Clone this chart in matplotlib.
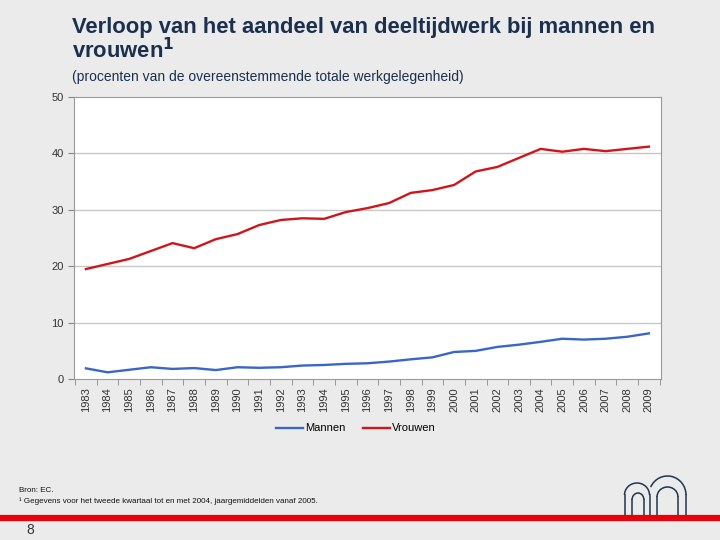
import matplotlib.pyplot as plt
import numpy as np
from matplotlib.patches import Arc

plt.rcParams['font.family'] = ['Liberation Sans', 'DejaVu Sans']

# data (aandeel deeltijdwerk, % van totale werkgelegenheid)
years = list(range(1983, 2010))
mannen = [1.9, 1.2, 1.65, 2.1, 1.8, 1.95, 1.6, 2.1, 2.0, 2.1, 2.4, 2.5, 2.7, 2.8,
          3.1, 3.5, 3.85, 4.8, 5.0, 5.7, 6.1, 6.6, 7.15, 7.0, 7.15, 7.5, 8.1]
vrouwen = [19.5, 20.4, 21.3, 22.7, 24.1, 23.2, 24.8, 25.7, 27.3, 28.2, 28.5, 28.4,
           29.6, 30.3, 31.2, 33.0, 33.5, 34.4, 36.8, 37.6, 39.2, 40.8, 40.3, 40.8,
           40.4, 40.8, 41.2]

bg = "#ebebeb"
navy = "#1b2f4e"
fig = plt.figure(figsize=(7.2, 5.4), dpi=100, facecolor=bg)
ax = fig.add_axes([0.1028, 0.298, 0.815, 0.5224])
ax.set_facecolor("white")

x = np.arange(len(years))
ax.plot(x, mannen, color="#3a66c8", lw=1.7, label="Mannen")
ax.plot(x, vrouwen, color="#d0161b", lw=1.7, label="Vrouwen")

ax.set_ylim(0, 50)
ax.set_yticks([0, 10, 20, 30, 40, 50])
ax.set_xlim(-0.55, len(years) - 0.45)
ax.set_xticks(x)
ax.set_xticklabels([str(y) for y in years], rotation=90)
ax.set_xticks(np.arange(len(years) + 1) - 0.5, minor=True)
ax.tick_params(axis="x", which="major", length=0, pad=6, labelsize=8, colors="#333333")
ax.tick_params(axis="x", which="minor", length=4, color="#888888")
ax.tick_params(axis="y", length=4, color="#888888", labelsize=8, labelcolor="#333333")
for v in [10, 20, 30, 40]:
    ax.axhline(v, color="#c8c8c8", lw=1, zorder=0)
for s in ax.spines.values():
    s.set_color("#999999")

ax.legend(loc="upper center", bbox_to_anchor=(0.48, -0.122), ncol=2, frameon=False,
          fontsize=8, handlelength=2.4, handletextpad=0.2, columnspacing=1.6)

# titles
fig.text(0.1, 0.968, "Verloop van het aandeel van deeltijdwerk bij mannen en\nvrouwen$^\\mathbf{1}$",
         fontsize=15.8, fontweight="bold", va="top", ha="left", color=navy, linespacing=1.0)
fig.text(0.1, 1 - 77 / 540, "(procenten van de overeenstemmende totale werkgelegenheid)",
         fontsize=10, va="center", ha="left", color=navy)

# footer
fig.text(0.026, 1 - 490 / 540, "Bron: EC.", fontsize=5.8, color="#111111", va="center")
fig.text(0.026, 1 - 501 / 540,
         "\u00b9 Gegevens voor het tweede kwartaal tot en met 2004, jaargemiddelden vanaf 2005.",
         fontsize=5.8, color="#111111", va="center")
fig.add_artist(plt.Line2D([0, 1], [0.04, 0.04], color="#e8000b", lw=4.5))
fig.text(0.042, 0.018, "8", fontsize=10, color="#333333", ha="center", va="center")

# logo (pixel-like coordinates, y downwards)
lx = fig.add_axes([615 / 720, 25 / 540, 80 / 720, 45 / 540])
lx.set_xlim(615, 695)
lx.set_ylim(515, 470)
lx.axis("off")
c = "#1f3550"
lw = 1.1
# right arch (behind)
lx.add_patch(Arc((667.5, 495), 37, 38, theta1=205, theta2=360, color=c, lw=lw))
lx.add_patch(Arc((667.5, 497), 21, 20, theta1=180, theta2=360, color=c, lw=lw))
# left arch
lx.add_patch(Arc((637, 495), 25, 24, theta1=180, theta2=360, color=c, lw=lw))
lx.add_patch(Arc((638, 500), 12, 14, theta1=180, theta2=360, color=c, lw=lw))
for xx, y0 in [(624.5, 495), (649.5, 495), (632, 500), (644, 500),
               (657, 497), (678, 497), (686, 495)]:
    lx.plot([xx, xx], [515, y0], color=c, lw=lw)

fig.savefig("out.png", dpi=100, facecolor=bg)
